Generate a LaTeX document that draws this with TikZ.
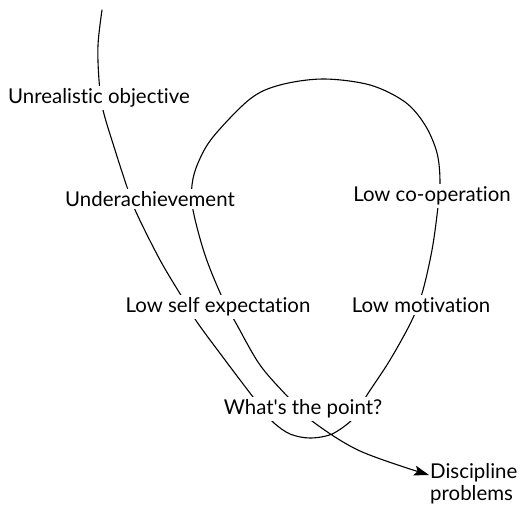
\documentclass[tikz,border=0pt]{standalone}
\usepackage{fontspec}
\setmainfont{Lato}[Ligatures={NoCommon}]
\usetikzlibrary{arrows.meta}
\pgfdeclarelayer{background}
\pgfsetlayers{background,main}
\begin{document}
\begin{tikzpicture}[x=1bp,y=-1bp,
  lbl/.style={fill=white,inner sep=2.5bp,font=\fontsize{20.5}{22}\selectfont},
  spiral/.style={line width=1.1bp,line cap=round}]
\useasboundingbox (0,0) rectangle (519,508);
\node[lbl] (unreal) at (99,98) {Unrealistic objective};
\node[lbl] (under) at (150,199) {Underachievement};
\node[lbl] (lowself) at (218,307) {Low self expectation};
\node[lbl] (point) at (303,409) {What\textquotesingle s the point?};
\node[lbl] (coop) at (432,196) {Low co-operation};
\node[lbl] (motiv) at (421,305) {Low motivation};
\node[lbl,align=left,anchor=west,inner sep=1bp] (disc) at (429,484) {Discipline\\problems};
\coordinate (start) at (102,10);
\coordinate (tip) at ([yshift=9bp]disc.west);
\begin{pgfonlayer}{background}
\draw[spiral,-{Stealth[length=15bp,width=10bp,inset=3bp]}] plot[smooth,tension=0.55] coordinates {
 (start) (98,45) (99,80) (103,110) (115,150) (127,187) (136,212) (160,260)
 (182,297) (197,322) (225,360) (253,397) (264,411) (274,423) (290,434) (310,438)
 (332,434) (352,420) (360,408) (367,395) (390,360) (412,320) (423,290) (432,250)
 (437,215) (440,183) (437,153) (425,125) (405,102) (370,85) (323,79) (280,85)
 (250,99) (213,137) (198,163) (192,185) (193,210) (205,255) (222,297)
 (237,325) (260,365) (288,397) (312,421) (360,451) (tip)};
\end{pgfonlayer}
\end{tikzpicture}
\end{document}
